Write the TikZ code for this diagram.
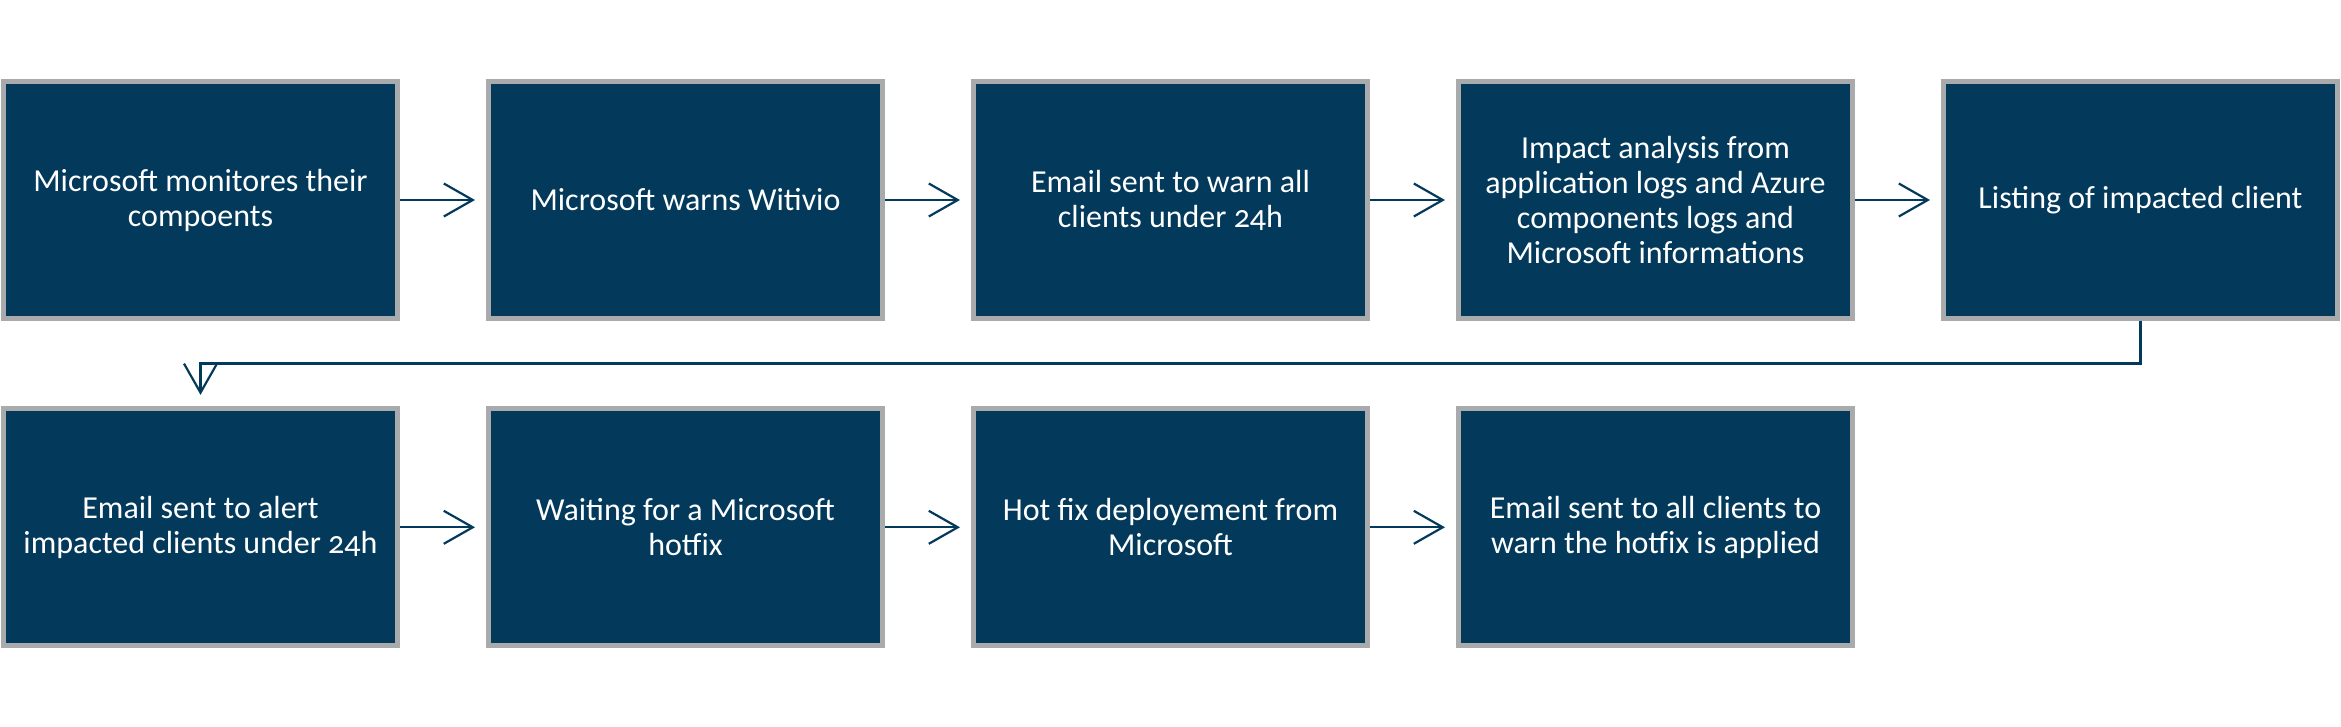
\documentclass[tikz,border=0pt]{standalone}
\usepackage{fontspec}
\setmainfont[Numbers=OldStyle]{Carlito}
\usetikzlibrary{arrows.meta}
\definecolor{boxblue}{RGB}{3,58,91}
\definecolor{boxgray}{RGB}{168,170,172}
\begin{document}
\begin{tikzpicture}[x=1pt,y=-1pt,
  stepbox/.style={rectangle, draw=boxgray, line width=5pt, fill=boxblue,
    minimum width=394pt, minimum height=236.7pt, inner sep=0pt,
    text=white, align=center, font=\fontsize{32}{35}\selectfont},
  flow/.style={draw=boxblue, line width=2.2pt,
    -{Straight Barb[length=29pt,width=33pt,line width=2.2pt]}}]
\useasboundingbox (0,0) rectangle (2341,726);
\node[stepbox] (b1) at (200.5,200) {Microsoft monitores their\\compoents};
\node[stepbox] (b2) at (685.5,200) {Microsoft warns Witivio};
\node[stepbox] (b3) at (1170.5,200) {Email sent to warn all\\clients under 24h};
\node[stepbox] (b4) at (1655.5,200) {Impact analysis from\\application logs and Azure\\components logs and\\Microsoft informations};
\node[stepbox] (b5) at (2140.5,200) {Listing of impacted client};
\node[stepbox] (b6) at (200.5,527.3) {Email sent to alert\\impacted clients under 24h};
\node[stepbox] (b7) at (685.5,527.3) {Waiting for a Microsoft\\hotfix};
\node[stepbox] (b8) at (1170.5,527.3) {Hot fix deployement from\\Microsoft};
\node[stepbox] (b9) at (1655.5,527.3) {Email sent to all clients to\\warn the hotfix is applied};
\foreach \a/\b in {b1/b2,b2/b3,b3/b4,b4/b5,b6/b7,b7/b8,b8/b9}
  \draw[flow, shorten >=11pt] (\a.east) -- (\b.west);
\coordinate (t1) at ([yshift=-42.6pt]b5.south);
\draw[flow, shorten >=11.6pt] (b5.south) -- (t1) -| (b6.north);
\end{tikzpicture}
\end{document}
